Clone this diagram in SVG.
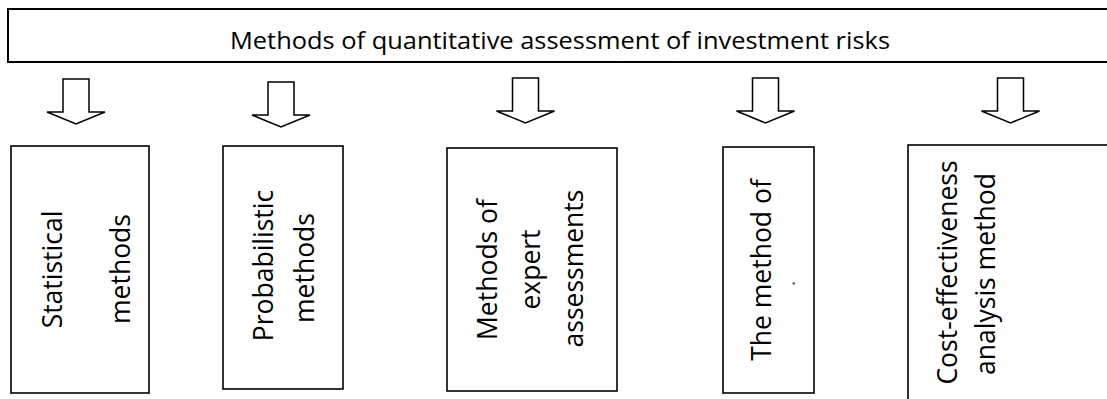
<svg xmlns="http://www.w3.org/2000/svg" xmlns:xlink="http://www.w3.org/1999/xlink" width="1107" height="399" viewBox="0 0 1107 399">
<style>
.box{fill:#fff;stroke:#000;stroke-width:1.6}
.top{fill:#fff;stroke:#000;stroke-width:2}
.arr{fill:#fff;stroke:#000;stroke-width:1.5;stroke-linejoin:miter}
.t{font-family:"Open Sans","Liberation Sans",sans-serif;fill:#000}
.v{font-size:26.5px;text-anchor:middle}
</style>
<defs>
<path id="blk" d="M-13,0 H13 V33 H29 L0,45 L-29,33 H-13 Z"/>
</defs>
<rect width="1107" height="399" fill="#fff"/>
<g id="title">
<rect class="top" x="8" y="9" width="1110" height="53"/>
<text class="t" x="230" y="49" font-size="24.5" textLength="660" lengthAdjust="spacingAndGlyphs">Methods of quantitative assessment of investment risks</text>
</g>
<g id="connectors">
<use xlink:href="#blk" class="arr" x="76" y="79"/>
<use xlink:href="#blk" class="arr" x="281" y="82"/>
<use xlink:href="#blk" class="arr" x="525.5" y="78"/>
<use xlink:href="#blk" class="arr" x="765.5" y="78"/>
<use xlink:href="#blk" class="arr" x="1010.5" y="78"/>
</g>
<g id="statistical">
<rect class="box" x="11" y="146" width="138" height="247"/>
<text class="t v" transform="translate(62,269.5) rotate(-90)">Statistical</text>
<text class="t v" transform="translate(130,269) rotate(-90)">methods</text>
</g>
<g id="probabilistic">
<rect class="box" x="223" y="146" width="120" height="243"/>
<text class="t v" transform="translate(273,265.5) rotate(-90)">Probabilistic</text>
<text class="t v" transform="translate(314,268) rotate(-90)">methods</text>
</g>
<g id="expert">
<rect class="box" x="447" y="148" width="170" height="243"/>
<text class="t v" transform="translate(497,269.5) rotate(-90)">Methods of</text>
<text class="t v" transform="translate(540,269.5) rotate(-90)">expert</text>
<text class="t v" transform="translate(583,268.5) rotate(-90)">assessments</text>
</g>
<g id="method-of">
<rect class="box" x="723" y="147" width="91" height="246"/>
<text class="t v" transform="translate(771,270) rotate(-90)">The method of</text>
<text class="t" font-size="20" fill-opacity="0.7" transform="translate(794.5,286) rotate(-90)">.</text>
</g>
<g id="cost-effectiveness">
<rect class="box" x="908" y="145" width="240" height="300"/>
<text class="t v" transform="translate(957,272.5) rotate(-90)">Cost-effectiveness</text>
<text class="t v" transform="translate(995,274) rotate(-90)">analysis method</text>
</g>
</svg>
